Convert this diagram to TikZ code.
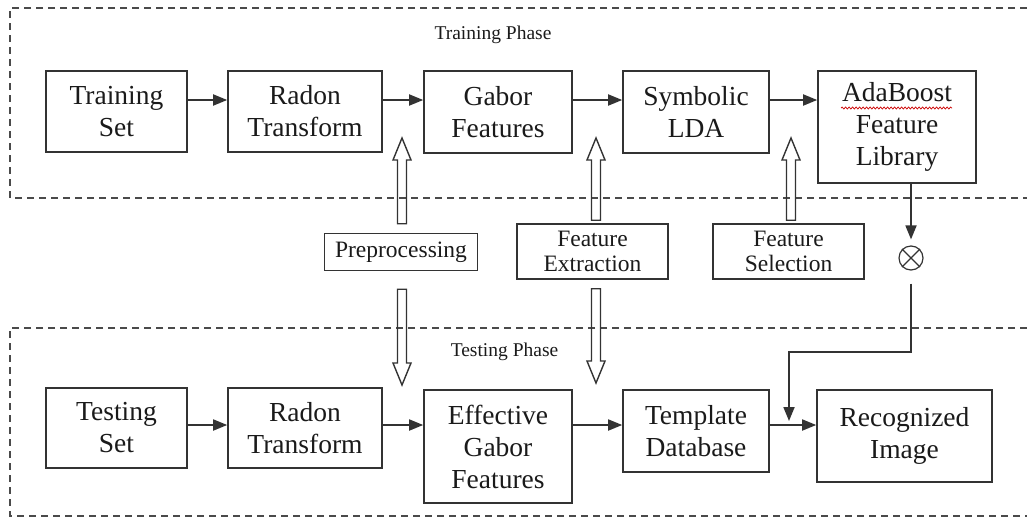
\documentclass[tikz,border=0pt]{standalone}
\usepackage{fontspec}
\setmainfont{Liberation Serif}
\usepackage{tikz}
\usetikzlibrary{arrows.meta, calc, decorations.pathmorphing}

\definecolor{linec}{HTML}{333333}
\definecolor{txtc}{HTML}{1A1A1A}
\definecolor{framec}{HTML}{4A4A4A}

% open block arrow from #1 (tail) to #2 (tip), drawn as an outline
\newcommand{\hollowarrow}[2]{%
  \draw[hollow] let \p1=(#1), \p2=(#2), \p3=($(#2)!22pt!(#1)$) in
    (\x2-4.5pt,\y1) -- (\x2-4.5pt,\y3) -- (\x2-9pt,\y3) -- (\x2,\y2)
    -- (\x2+9pt,\y3) -- (\x2+4.5pt,\y3) -- (\x2+4.5pt,\y1) -- cycle;}

\begin{document}
\begin{tikzpicture}[x=1pt, y=-1pt,
            box/.style={draw=linec, line width=1.6pt, inner sep=0pt, align=center, text=txtc, font=\fontsize{27.5}{32}\selectfont}, % process blocks
            tag/.style={draw=linec, line width=1.5pt, inner sep=0pt, align=center, text=txtc, minimum width=151pt, minimum height=55pt, font=\fontsize{23.5}{25}\selectfont}, % stage labels
            arr/.style={draw=linec, line width=1.8pt, -{Triangle[length=14pt,width=11pt]}}, % solid arrows
            hollow/.style={draw=linec, line width=1.4pt}, % block arrows
            frame/.style={draw=framec, line width=1.4pt, dash pattern=on 7pt off 5pt}, % phase frames
            phase/.style={text=txtc, font=\fontsize{19.5}{22}\selectfont},
            squiggle/.style={draw=red!80!black, line width=0.7pt, decorate, decoration={snake, amplitude=1pt, segment length=3.5pt}}
            ]

        \useasboundingbox (0,0) rectangle (1027,517);

        % phase frames
        \draw[frame] (1027,8) -- (10,8) -- (10,198) -- (1027,198);
        \draw[frame] (1027,328) -- (10,328) -- (10,516) -- (1027,516);
        \node[phase] (trainphase) at (493,35) {Training Phase};
        \node[phase] (testphase) at (504.5,352) {Testing Phase};

        % training row
        \node[box, minimum width=141pt, minimum height=81pt] (trainset) at (116.5,111.5) {Training\\Set};
        \node[box, minimum width=154pt, minimum height=81pt] (radon1) at (305,111.5) {Radon\\Transform};
        \node[box, minimum width=148pt, minimum height=82pt] (gabor) at (498,112) {Gabor\\Features};
        \node[box, minimum width=146pt, minimum height=82pt] (slda) at (696,112) {Symbolic\\LDA};
        \node[box, minimum width=158pt, minimum height=112pt] (adaboost) at (897,127) {AdaBoost\\Feature\\Library};
        \draw[squiggle] (841,108) -- (952,108);

        % testing row
        \node[box, minimum width=141pt, minimum height=80pt] (testset) at (116.5,428) {Testing\\Set};
        \node[box, minimum width=154pt, minimum height=80pt] (radon2) at (305,428) {Radon\\Transform};
        \node[box, minimum width=148pt, minimum height=113pt] (effgabor) at (498,446.5) {Effective\\Gabor\\Features};
        \node[box, minimum width=146pt, minimum height=82pt] (template) at (696,431) {Template\\Database};
        \node[box, minimum width=175pt, minimum height=92pt] (recog) at (904.5,436) {Recognized\\Image};

        % stage labels in between
        \node[tag, minimum width=153pt, minimum height=37pt] (prep) at (401,252) {Preprocessing};
        \node[tag] (featext) at (592.5,251.5) {Feature\\Extraction};
        \node[tag] (featsel) at (788.5,251.5) {Feature\\Selection};

        \node[draw=linec, line width=1.2pt, circle, minimum size=24pt, inner sep=0pt] (mix) at (911,258) {};
        \draw[linec, line width=1.2pt] (mix.45) -- (mix.225) (mix.135) -- (mix.315);

        % solid arrows
        \coordinate (row1) at (0,100);
        \coordinate (row2) at (0,425);
        \draw[arr] (trainset.east |- row1) -- (radon1.west |- row1);
        \draw[arr] (radon1.east |- row1) -- (gabor.west |- row1);
        \draw[arr] (gabor.east |- row1) -- (slda.west |- row1);
        \draw[arr] (slda.east |- row1) -- (adaboost.west |- row1);
        \draw[arr] (testset.east |- row2) -- (radon2.west |- row2);
        \draw[arr] (radon2.east |- row2) -- (effgabor.west |- row2);
        \draw[arr] (effgabor.east |- row2) -- (template.west |- row2);
        \draw[arr] (template.east |- row2) -- (recog.west |- row2);

        \draw[arr] (adaboost.south -| mix) -- ([yshift=6pt]mix.north);
        \coordinate (bend) at (789,352);
        \coordinate (drop) at (789,421);
        \draw[arr] ([yshift=-13pt]mix.south) |- (bend) -- (drop);

        % block arrows
        \coordinate (pp-up-a) at ([yshift=9pt]prep.north);
        \coordinate (pp-up-b) at (402,138);
        \coordinate (pp-dn-a) at ([yshift=-18pt]prep.south);
        \coordinate (pp-dn-b) at (402,385);
        \coordinate (fe-up-a) at ([yshift=3pt]featext.north);
        \coordinate (fe-up-b) at (596,138);
        \coordinate (fe-dn-a) at ([yshift=-9pt]featext.south);
        \coordinate (fe-dn-b) at (596,383);
        \coordinate (fs-up-a) at ([yshift=3pt]featsel.north);
        \coordinate (fs-up-b) at (791,138);
        \hollowarrow{pp-up-a}{pp-up-b}
        \hollowarrow{pp-dn-a}{pp-dn-b}
        \hollowarrow{fe-up-a}{fe-up-b}
        \hollowarrow{fe-dn-a}{fe-dn-b}
        \hollowarrow{fs-up-a}{fs-up-b}

\end{tikzpicture}
\end{document}
